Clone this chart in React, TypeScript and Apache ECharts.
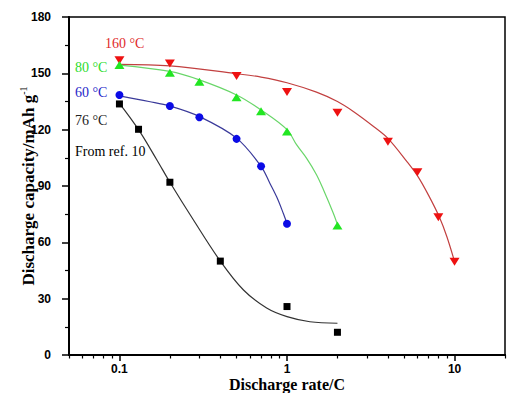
import React, { useEffect, useRef } from "react";
import * as echarts from "echarts";

// Measured points (discharge rate in C, capacity in mAh/g)
const rates160 = [0.1, 0.2, 0.5, 1, 2, 4, 6, 8, 10];
const cap160 = [157, 155.3, 148.6, 140, 129, 113.6, 97.3, 73.3, 49.7];
const rates80 = [0.1, 0.2, 0.3, 0.5, 0.7, 1, 2];
const cap80 = [154.4, 150.3, 145.5, 137.2, 129.8, 119, 69];
const rates60 = [0.1, 0.2, 0.3, 0.5, 0.7, 1];
const cap60 = [138.5, 132.6, 126.6, 115.1, 100.5, 69.9];
const rates76 = [0.1, 0.13, 0.2, 0.4, 1, 2];
const cap76 = [133.7, 120.2, 92, 50, 25.8, 12.1];

// Fitted curves
const fit160X = [0.1, 0.2, 0.5, 0.7, 1, 1.5, 2, 2.5, 3.3, 4, 5.2, 6, 7, 8.1, 9, 10];
const fit160Y = [154.8, 154, 149.8, 148, 145, 140, 135, 129.6, 121.6, 115.4, 103, 95.5, 85, 73.6, 63, 49.7];
const fit80X = [0.1, 0.2, 0.3, 0.5, 0.7, 1, 1.14, 1.31, 1.5, 1.65, 1.89, 2];
const fit80Y = [154.4, 151, 146.5, 138.5, 130.5, 120, 112, 104.7, 96, 88, 75.5, 69.5];
const fit60X = [0.1, 0.15, 0.2, 0.3, 0.5, 0.7, 0.79, 0.87, 0.95, 1];
const fit60Y = [138, 135, 132.6, 127, 115.5, 100.5, 91.5, 84, 75.5, 70];
const fit76X = [0.1, 0.13, 0.167, 0.2, 0.276, 0.4, 0.55, 0.756, 1, 1.37, 2];
const fit76Y = [134, 120, 104, 92, 72, 50, 34.6, 25, 20.4, 17.7, 16.9];

// Axis ticks
const xMin = 0.05;
const xMax = 20;
const xMajorTicks = [0.1, 1, 10];
const xMinorTicks = [0.05, 0.06, 0.07, 0.08, 0.09, 0.2, 0.3, 0.4, 0.5, 0.6, 0.7, 0.8, 0.9, 2, 3, 4, 5, 6, 7, 8, 9, 20];
const yMin = 0;
const yMax = 180;
const yInterval = 30;

const seriesLabels = ["160 °C", "80 °C", "60 °C", "76 °C", "From ref. 10"];

const pair = (xs: number[], ys: number[]) => xs.map((x, i) => [x, ys[i]]);

export default function App() {
  const ref = useRef<HTMLDivElement>(null);
  useEffect(() => {
    document.body.style.margin = "0";
    if (!ref.current) return;
    const chart = echarts.init(ref.current, undefined, { renderer: "svg" });
    const serif = '"Liberation Serif", "Times New Roman", serif';
    const sans = '"Liberation Sans", Arial, sans-serif';
    const lg = Math.log10;
    const valueAxisBase = {
      type: "value" as const,
      position: "bottom" as const,
      min: lg(xMin),
      max: lg(xMax),
      axisLine: { show: true, onZero: false, lineStyle: { color: "#000", width: 2 } },
      splitLine: { show: false },
    };
    const lineSeries = (name: string, data: number[][], color: string) => ({
      name,
      type: "line",
      data,
      smooth: 0.35,
      showSymbol: false,
      symbol: "none",
      lineStyle: { color, width: 1.2 },
      z: 2,
      silent: true,
    });
    const scatterSeries = (name: string, data: number[][], color: string, symbol: string, size: any, rotate = 0) => ({
      name,
      type: "scatter",
      data,
      symbol,
      symbolSize: size,
      symbolRotate: rotate,
      itemStyle: { color, opacity: 1 },
      z: 3,
    });
    const label = (text: string, x: number, y: number, color: string) => ({
      type: "text",
      x,
      y,
      style: { text, fill: color, fontSize: 14, fontFamily: serif, verticalAlign: "middle", align: "left" },
    });
    chart.setOption({
      animation: false,
      backgroundColor: "#fff",
      grid: {
        left: 69,
        right: 11,
        top: 17,
        bottom: 38,
        show: true,
        borderColor: "#000",
        borderWidth: 1.5,
        containLabel: false,
        outerBoundsMode: "none",
      },
      xAxis: [
        {
          type: "log",
          logBase: 10,
          min: xMin,
          max: xMax,
          position: "bottom",
          axisLine: { show: true, onZero: false, lineStyle: { color: "#000", width: 2 } },
          axisTick: { show: false },
          axisLabel: { show: false },
          splitLine: { show: false },
          name: "Discharge rate/C",
          nameLocation: "middle",
          nameGap: 21,
          nameMoveOverlap: false,
          nameTextStyle: { fontFamily: serif, fontWeight: "bold", fontSize: 16, color: "#000" },
        },
        {
          ...valueAxisBase,
          axisTick: { show: true, inside: false, length: 6, customValues: xMajorTicks.map(lg), lineStyle: { color: "#000", width: 1.5 } },
          axisLabel: {
            show: true,
            customValues: xMajorTicks.map(lg),
            formatter: (v: number) => String(Number(Math.pow(10, v).toPrecision(3))),
            fontFamily: sans,
            fontWeight: "bold",
            fontSize: 12,
            color: "#000",
            margin: 8,
          },
        },
        {
          ...valueAxisBase,
          axisTick: { show: true, inside: false, length: 3.5, customValues: xMinorTicks.map(lg), lineStyle: { color: "#000", width: 1.2 } },
          axisLabel: { show: false },
        },
      ],
      yAxis: {
        type: "value",
        min: yMin,
        max: yMax,
        interval: yInterval,
        axisLine: { show: true, onZero: false, lineStyle: { color: "#000", width: 2 } },
        axisTick: { show: true, inside: false, length: 7, lineStyle: { color: "#000", width: 1.5 } },
        minorTick: { show: true, splitNumber: 2, length: 4, lineStyle: { color: "#000", width: 1.2 } },
        splitLine: { show: false },
        axisLabel: { fontFamily: sans, fontWeight: "bold", fontSize: 12, color: "#000", margin: 18 },
        name: "{a|Discharge capacity/mAh g}{b|-1}",
        nameLocation: "middle",
        nameGap: 31,
        nameMoveOverlap: false,
        nameTextStyle: {
          color: "#000",
          rich: {
            a: { fontFamily: serif, fontWeight: "bold", fontSize: 17, color: "#000", lineHeight: 20 },
            b: { fontFamily: serif, fontSize: 10, color: "#000", verticalAlign: "top", lineHeight: 10 },
          },
        },
      },
      graphic: [
        label(seriesLabels[0], 105, 43, "#e02a2a"),
        label(seriesLabels[1], 75, 67, "#2ddc2d"),
        label(seriesLabels[2], 75, 92, "#2525c8"),
        label(seriesLabels[3], 75, 120, "#222"),
        label(seriesLabels[4], 75, 151, "#000"),
      ],
      series: [
        lineSeries("fit160", pair(fit160X, fit160Y), "#c24040"),
        lineSeries("fit80", pair(fit80X, fit80Y), "#6ad66a"),
        lineSeries("fit60", pair(fit60X, fit60Y), "#3a3a9a"),
        lineSeries("fit76", pair(fit76X, fit76Y), "#333"),
        scatterSeries(seriesLabels[0], pair(rates160, cap160), "#ee1111", "triangle", [10, 8], 180),
        scatterSeries(seriesLabels[1], pair(rates80, cap80), "#22e622", "triangle", [10, 8]),
        scatterSeries(seriesLabels[2], pair(rates60, cap60), "#0b0be6", "circle", 8),
        scatterSeries(seriesLabels[3], pair(rates76, cap76), "#000", "rect", 7),
      ],
    });
    return () => chart.dispose();
  }, []);
  return <div ref={ref} style={{ position: "absolute", left: 0, top: 0, width: 516, height: 393 }} />;
}
